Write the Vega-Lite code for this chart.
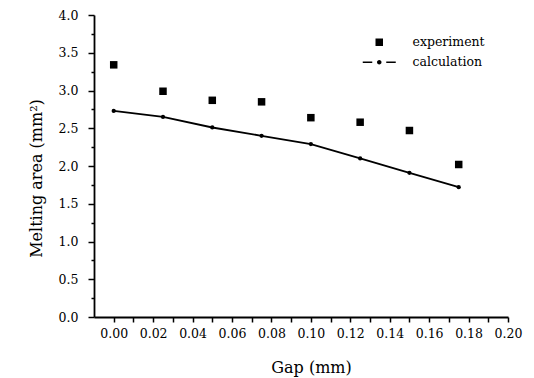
{
  "$schema": "https://vega.github.io/schema/vega-lite/v6.json",
  "width": 414,
  "height": 302,
  "autosize": {"type": "none"},
  "padding": {"left": 94, "top": 15, "right": 26, "bottom": 61},
  "background": "white",
  "data": {
    "values": [
      {"gap": 0.000, "area": 3.34, "series": "experiment"},
      {"gap": 0.025, "area": 2.99, "series": "experiment"},
      {"gap": 0.050, "area": 2.87, "series": "experiment"},
      {"gap": 0.075, "area": 2.85, "series": "experiment"},
      {"gap": 0.100, "area": 2.64, "series": "experiment"},
      {"gap": 0.125, "area": 2.58, "series": "experiment"},
      {"gap": 0.150, "area": 2.47, "series": "experiment"},
      {"gap": 0.175, "area": 2.02, "series": "experiment"},
      {"gap": 0.000, "area": 2.73, "series": "calculation"},
      {"gap": 0.025, "area": 2.65, "series": "calculation"},
      {"gap": 0.050, "area": 2.51, "series": "calculation"},
      {"gap": 0.075, "area": 2.40, "series": "calculation"},
      {"gap": 0.100, "area": 2.29, "series": "calculation"},
      {"gap": 0.125, "area": 2.10, "series": "calculation"},
      {"gap": 0.150, "area": 1.91, "series": "calculation"},
      {"gap": 0.175, "area": 1.72, "series": "calculation"}
    ]
  },
  "encoding": {
    "x": {
      "field": "gap",
      "type": "quantitative",
      "scale": {"domain": [-0.01, 0.2], "nice": false, "zero": false},
      "axis": {
        "title": "Gap (mm)",
        "values": [0, 0.01, 0.02, 0.03, 0.04, 0.05, 0.06, 0.07, 0.08, 0.09, 0.1, 0.11, 0.12, 0.13, 0.14, 0.15, 0.16, 0.17, 0.18, 0.19, 0.2],
        "format": ".2f",
        "labelExpr": "round(datum.value*100) % 2 == 0 ? datum.label : ''",
        "tickSize": 5,
        "labelPadding": 5,
        "labelFlush": false,
        "labelOverlap": false,
        "titleX": 217,
        "titleY": 50,
        "titleBaseline": "middle",
        "titleAlign": "center"
      }
    },
    "y": {
      "field": "area",
      "type": "quantitative",
      "scale": {"domain": [0, 4], "nice": false},
      "axis": {
        "title": "Melting area (mm²)",
        "values": [0, 0.25, 0.5, 0.75, 1, 1.25, 1.5, 1.75, 2, 2.25, 2.5, 2.75, 3, 3.25, 3.5, 3.75, 4],
        "format": ".1f",
        "labelExpr": "round(datum.value*4) % 2 == 0 ? datum.label : ''",
        "tickSize": {"condition": {"test": "round(datum.value*4) % 2 == 0", "value": 6}, "value": 3},
        "labelPadding": 10,
        "labelFlush": false,
        "labelOverlap": false,
        "titleAngle": -90,
        "titleX": -58,
        "titleY": 163,
        "titleBaseline": "middle",
        "titleAlign": "center"
      }
    }
  },
  "layer": [
    {
      "transform": [{"filter": "datum.series == 'experiment'"}],
      "mark": {"type": "point", "filled": true, "size": 100, "color": "black", "opacity": 1},
      "encoding": {
        "shape": {
          "field": "series",
          "type": "nominal",
          "scale": {
            "domain": ["experiment", "calculation"],
            "range": [
              "M-0.75,-0.75L0.75,-0.75L0.75,0.75L-0.75,0.75Z",
              "M-3.3,-0.15L-1.4,-0.15L-1.4,0.15L-3.3,0.15Z M1.4,-0.15L3.3,-0.15L3.3,0.15L1.4,0.15Z M-0.45,0A0.45,0.45 0 1,1 0.45,0A0.45,0.45 0 1,1 -0.45,0Z"
            ]
          },
          "legend": {
            "title": null,
            "orient": "none",
            "legendX": 279,
            "legendY": 21,
            "padding": 0,
            "symbolSize": 100,
            "labelOffset": 27,
            "rowPadding": 7,
            "labelFont": "DejaVu Serif",
            "labelFontSize": 12.5,
            "labelColor": "black",
            "symbolFillColor": "black",
            "symbolStrokeColor": "black",
            "symbolStrokeWidth": 0.8,
            "encode": {
              "symbols": {
                "update": {
                  "fill": {"value": "black"},
                  "stroke": {"value": "black"},
                  "strokeWidth": {"value": 0.8},
                  "opacity": {"value": 1}
                }
              }
            }
          }
        }
      }
    },
    {
      "transform": [{"filter": "datum.series == 'calculation'"}],
      "mark": {
        "type": "line",
        "color": "black",
        "strokeWidth": 1.8,
        "point": {"filled": true, "size": 18, "color": "black", "opacity": 1}
      }
    }
  ],
  "config": {
    "view": {"stroke": null},
    "font": "DejaVu Serif",
    "axis": {
      "domainColor": "black",
      "domainWidth": 1.8,
      "tickColor": "black",
      "tickWidth": 1.5,
      "grid": false,
      "labelFont": "DejaVu Serif",
      "labelFontSize": 12.5,
      "labelColor": "black",
      "titleFont": "DejaVu Serif",
      "titleFontSize": 16,
      "titleFontWeight": "normal",
      "titleColor": "black"
    }
  }
}
